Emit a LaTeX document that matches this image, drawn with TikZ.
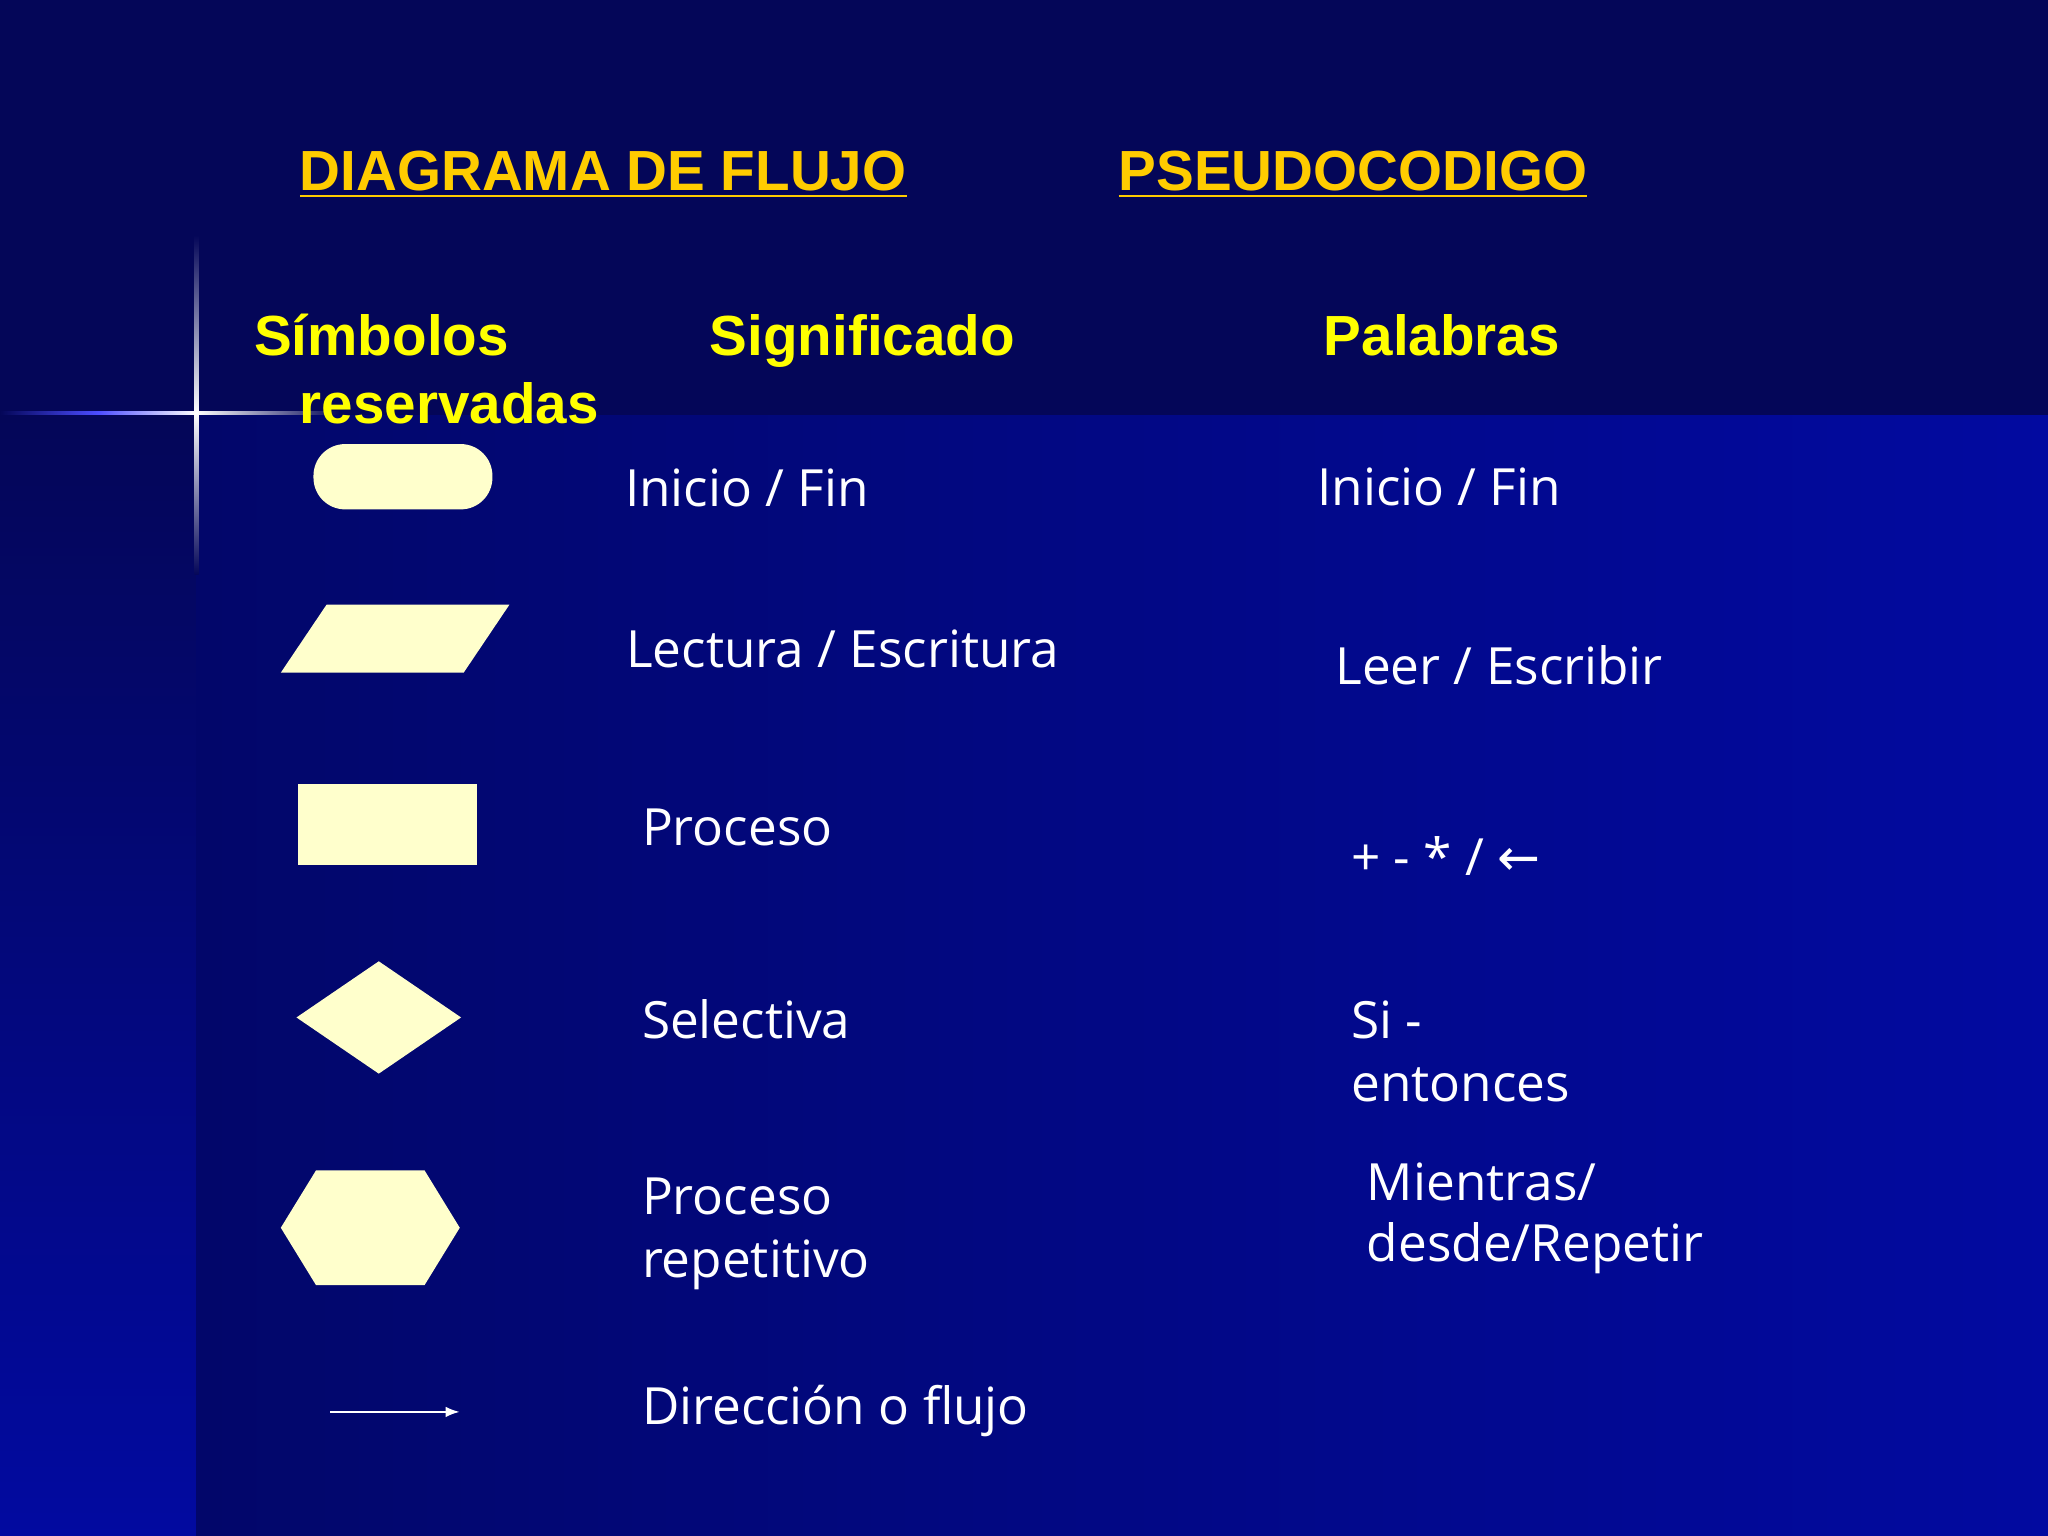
\documentclass[tikz,border=0pt]{standalone}
\usepackage{fontspec}
\usetikzlibrary{arrows.meta}
\setmainfont{Open Sans}
\newfontfamily\hfont{Liberation Sans}
\newfontfamily\symfont{DejaVu Sans}
\definecolor{topbg}{RGB}{4,6,88}
\definecolor{botL}{RGB}{2,6,100}
\definecolor{botR}{RGB}{2,10,160}
\definecolor{cream}{RGB}{255,255,204}
\definecolor{gold}{RGB}{255,204,0}
\definecolor{yel}{RGB}{255,255,0}
\tikzset{
  sym/.style={fill=cream,draw=none},
  title/.style={anchor=base west,text=gold,font=\hfont\bfseries\fontsize{16.1}{19}\selectfont,inner sep=0pt},
  head/.style={anchor=base west,text=yel,font=\hfont\bfseries\fontsize{16.1}{19}\selectfont,inner sep=0pt},
  body/.style={anchor=base west,text=white,font=\fontsize{14.6}{18}\selectfont,inner sep=0pt}
}
\begin{document}
\begin{tikzpicture}[x=0.013061cm,y=-0.013061cm]
\useasboundingbox (0,0) rectangle (1568,1176);
\shade[left color=botL,right color=botR] (0,318) rectangle (1568,1176);
\fill[topbg] (0,0) rectangle (1568,318);
\shade[top color=topbg,bottom color=botR] (0,318) rectangle (150,1176);
% lens flare
\shade[left color=topbg,right color=white,middle color=blue!70] (0,315) rectangle (150,317.5);
\shade[right color=topbg,left color=white] (150,315) rectangle (260,317.5);
\shade[top color=topbg,bottom color=white] (149,180) rectangle (152,316);
\shade[bottom color=topbg,top color=white] (149,316) rectangle (152,440);
% titles
\node[title] (t1) at (229,146) {\underline{DIAGRAMA DE FLUJO}};
\node[title] (t2) at (856,146) {\underline{PSEUDOCODIGO}};
\node[head] (h1) at (194,272) {Símbolos};
\node[head] (h2) at (543,272) {Significado};
\node[head] (h3) at (1013,272) {Palabras};
\node[head] (h4) at (229,324) {reservadas};
% symbols
\fill[sym,rounded corners=9pt] (240,340) rectangle (377,390);
\fill[sym] (215,515) -- (355,515) -- (390,463) -- (250,463) -- cycle;
\fill[sym] (228,600) rectangle (365,662);
\fill[sym] (227,779) -- (290,736) -- (353,779) -- (290,822) -- cycle;
\fill[sym] (215,940) -- (242,896) -- (325,896) -- (352,940) -- (325,984) -- (242,984) -- cycle;
\coordinate (a1) at (253,1081);
\coordinate (a2) at (352,1081);
\draw[white,line width=0.6pt,-{Latex[length=4pt]}] (a1) -- (a2);
% meanings
\node[body] (m1) at (478,388) {Inicio / Fin};
\node[body] (m2) at (479,511) {Lectura / Escritura};
\node[body] (m3) at (491,647) {Proceso};
\node[body] (m4) at (491,795) {Selectiva};
\node[body] (m5) at (491,930) {Proceso};
\node[body] (m5b) at (491,978) {repetitivo};
\node[body] (m6) at (491,1091) {Dirección o flujo};
% words
\node[body] (w1) at (1008,387) {Inicio / Fin};
\node[body] (w2) at (1022,524) {Leer / Escribir};
\node[body] (w3) at (1034,670) {+ - * / {\symfont\fontsize{14.6}{16}\selectfont ←}};
\node[body] (w4) at (1034,795) {Si -};
\node[body] (w4b) at (1034,843) {entonces};
\node[body] (w5) at (1046,919) {Mientras/};
\node[body] (w5b) at (1046,966) {desde/Repetir};
\end{tikzpicture}
\end{document}
